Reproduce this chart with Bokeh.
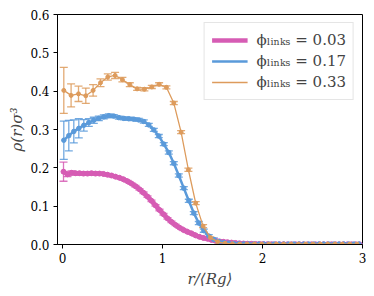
from bokeh.plotting import figure
from bokeh.models import ColumnDataSource, Whisker, TeeHead, Legend, LegendItem, FixedTicker, PrintfTickFormatter, Range1d
from bokeh.embed import file_html
from bokeh.resources import INLINE

# ---------------- data ----------------
pink_x = [round(0.01 + 0.04 * i, 3) for i in range(75)]
pink_y = [0.190, 0.183, 0.187, 0.186, 0.186, 0.185, 0.185, 0.186, 0.185, 0.185,
          0.184, 0.182, 0.180, 0.177, 0.174, 0.170, 0.165, 0.159, 0.152, 0.144,
          0.135, 0.125, 0.114, 0.102, 0.090, 0.079, 0.068, 0.059, 0.051, 0.044,
          0.038, 0.033, 0.029, 0.024, 0.020, 0.017, 0.015, 0.012, 0.010, 0.008,
          0.007, 0.006, 0.005, 0.004, 0.003, 0.0025, 0.002, 0.0017, 0.0014, 0.0012,
          0.0010, 0.0009, 0.0008, 0.0008, 0.0007, 0.0007, 0.0006, 0.0006, 0.0006, 0.0005,
          0.0005, 0.0005, 0.0005, 0.0005, 0.0005, 0.0005, 0.0005, 0.0005, 0.0005, 0.0005,
          0.0005, 0.0005, 0.0005, 0.0005, 0.0005]
pink_err = [0.025, 0.006, 0.005, 0.004, 0.004, 0.003, 0.003, 0.003, 0.003, 0.003] + [0.002] * 65

blue_x = [round(0.013 + 0.05 * i, 3) for i in range(60)]
blue_y = [0.272, 0.284, 0.295, 0.303, 0.311, 0.318, 0.324, 0.329, 0.333, 0.336,
          0.335, 0.331, 0.329, 0.328, 0.327, 0.325, 0.321, 0.312, 0.299, 0.283,
          0.262, 0.240, 0.212, 0.180, 0.147, 0.114, 0.082, 0.056, 0.036, 0.022,
          0.013, 0.008, 0.005, 0.0035, 0.0025, 0.002, 0.0015, 0.001, 0.001, 0.001,
          0.001, 0.001, 0.001, 0.001, 0.001, 0.001, 0.001, 0.001, 0.001, 0.001,
          0.001, 0.001, 0.001, 0.001, 0.001, 0.001, 0.001, 0.001, 0.001, 0.001]
blue_err = [0.05, 0.04, 0.03, 0.025, 0.015, 0.01, 0.008, 0.006, 0.005, 0.005] + [0.004] * 30 + [0.002] * 20

orange_x = [round(0.013 + 0.0733 * i, 3) for i in range(41)]
orange_y = [0.402, 0.389, 0.393, 0.388, 0.402, 0.422, 0.437, 0.441, 0.430, 0.417,
            0.406, 0.405, 0.411, 0.418, 0.410, 0.369, 0.293, 0.195, 0.108, 0.048,
            0.018, 0.007, 0.003, 0.0015, 0.001, 0.001, 0.001, 0.001, 0.001, 0.001,
            0.001, 0.001, 0.001, 0.001, 0.001, 0.001, 0.001, 0.001, 0.001, 0.001, 0.001]
orange_err = [0.06, 0.03, 0.02, 0.02, 0.015, 0.01, 0.008, 0.008, 0.006, 0.005] + [0.004] * 10 + [0.002] * 21

labels = ["ϕₗᵢₙₖₛ = 0.03", "ϕₗᵢₙₖₛ = 0.17", "ϕₗᵢₙₖₛ = 0.33"]
colors = ["#d65cb4", "#5a9ada", "#dd9b5c"]
x_ticks = [0, 1, 2, 3]
y_ticks = [0.0, 0.1, 0.2, 0.3, 0.4, 0.5, 0.6]

FONT = "DejaVu Serif"

p = figure(width=366, height=292, output_backend="svg", toolbar_location=None,
           x_range=Range1d(-0.05, 3.0), y_range=Range1d(0.0, 0.6),
           min_border_left=57, min_border_right=4, min_border_top=14, min_border_bottom=48)
p.grid.visible = False
p.outline_line_color = "black"
p.outline_line_width = 1
p.background_fill_color = "white"
p.border_fill_color = "white"

for ax in (p.xaxis[0], p.yaxis[0]):
    ax.major_tick_in = 0
    ax.major_tick_out = 4
    ax.minor_tick_line_color = None
    ax.major_label_text_font = FONT
    ax.major_label_text_font_size = "12px"
    ax.major_label_text_color = "black"
    ax.axis_label_text_font = FONT
    ax.axis_label_text_font_size = "15px"
    ax.axis_label_text_font_style = "italic"
    ax.axis_line_color = "black"

p.xaxis.ticker = FixedTicker(ticks=x_ticks)
p.yaxis.ticker = FixedTicker(ticks=y_ticks)
p.yaxis.formatter = PrintfTickFormatter(format="%.1f")
p.xaxis.axis_label = "r/⟨Rg⟩"
p.yaxis.axis_label = "ρ(r)σ³"
p.xaxis.major_label_standoff = 4
p.yaxis.major_label_standoff = 4
p.xaxis.axis_label_standoff = 4
p.yaxis.axis_label_standoff = 1

series = [
    (pink_x, pink_y, pink_err, colors[0], 4.5, 5),
    (blue_x, blue_y, blue_err, colors[1], 2.5, 4.5),
    (orange_x, orange_y, orange_err, colors[2], 1.3, 4),
]
line_renderers = []
for xs, ys, es, c, lw, ms in series:
    src = ColumnDataSource(dict(x=xs, y=ys,
                                upper=[a + b for a, b in zip(ys, es)],
                                lower=[a - b for a, b in zip(ys, es)]))
    w = Whisker(base="x", upper="upper", lower="lower", source=src, dimension="height",
                line_color=c, line_alpha=0.85, line_width=1.3,
                upper_head=TeeHead(size=8, line_color=c, line_alpha=0.85, line_width=1.3),
                lower_head=TeeHead(size=8, line_color=c, line_alpha=0.85, line_width=1.3))
    p.add_layout(w)
    r = p.line("x", "y", source=src, line_color=c, line_width=lw)
    p.scatter("x", "y", source=src, size=ms, fill_color=c, line_color=c)
    line_renderers.append(r)

legend = Legend(items=[LegendItem(label=labels[i], renderers=[line_renderers[i]]) for i in range(3)],
                location="top_right")
legend.label_text_font = FONT
legend.label_text_font_size = "15px"
legend.glyph_width = 36
legend.glyph_height = 20
legend.label_height = 20
legend.label_standoff = 9
legend.spacing = 1
legend.padding = 7
legend.margin = 8
legend.border_line_color = "#cccccc"
legend.border_line_width = 1
legend.background_fill_alpha = 0.85
p.add_layout(legend)

open("out.html", "w").write(file_html(p, INLINE))
